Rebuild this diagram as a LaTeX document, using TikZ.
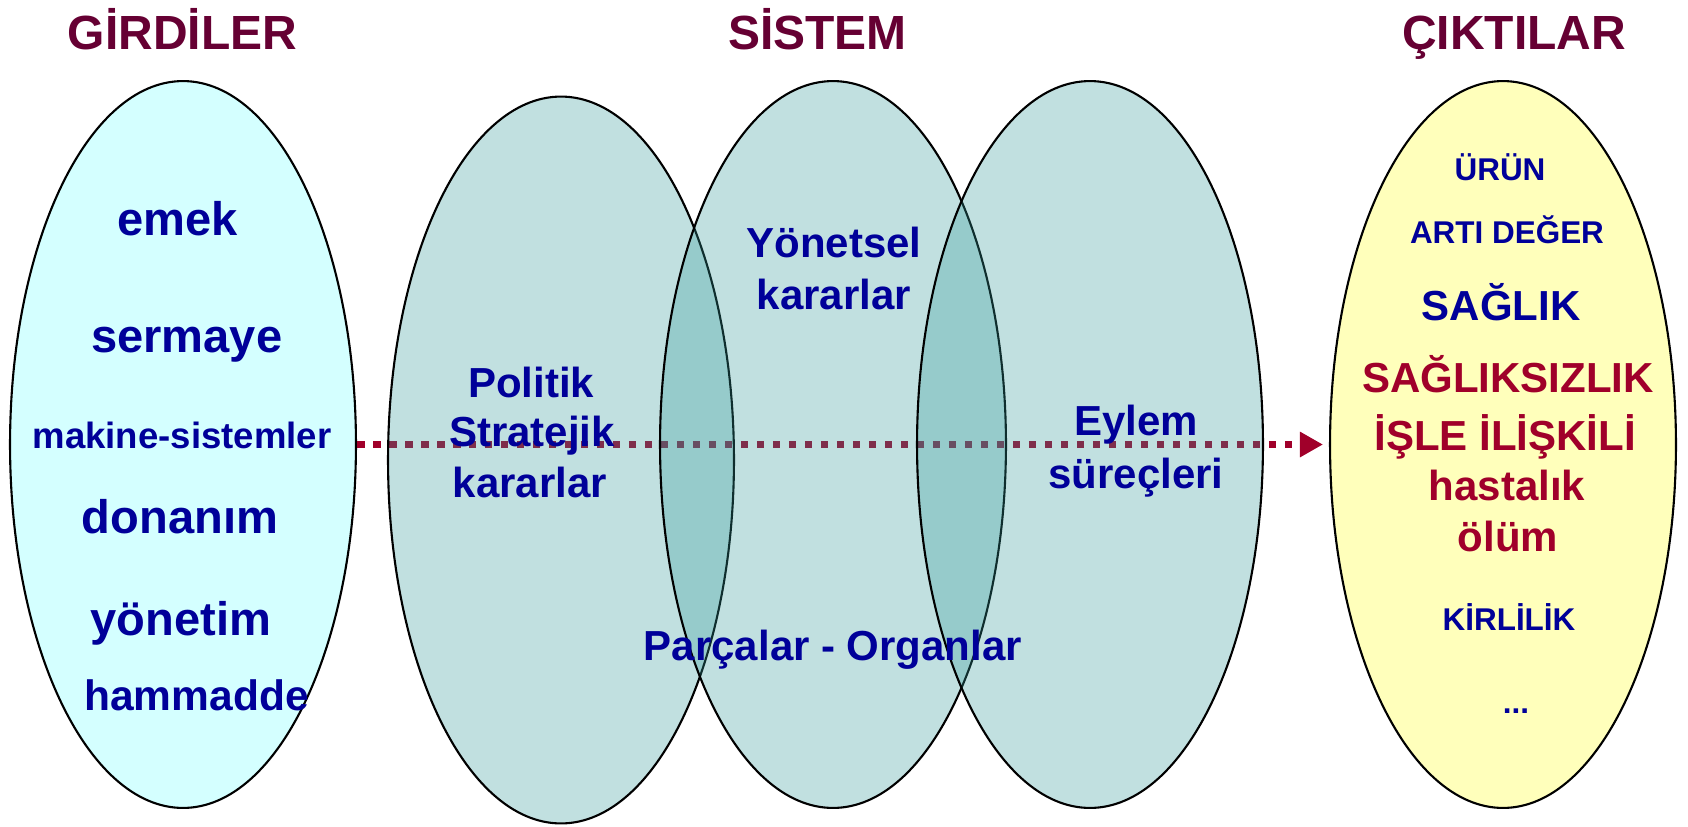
\documentclass[tikz,border=0pt]{standalone}
\usepackage{fontspec}
\setmainfont{Liberation Sans}
\usetikzlibrary{shapes.geometric,arrows.meta}
\definecolor{hdred}{HTML}{660033}
\definecolor{txblue}{HTML}{000099}
\definecolor{txred}{HTML}{A0002A}
\definecolor{incyan}{HTML}{D4FFFF}
\definecolor{outyel}{HTML}{FFFFBB}
\definecolor{systeal}{HTML}{339999}

\tikzset{
  ell/.style={ellipse,draw=black,line width=1.2pt,inner sep=0pt,minimum width=6.92cm,minimum height=14.54cm},
  sys/.style={ell,fill=systeal,fill opacity=0.3,draw opacity=1},
  hd/.style={anchor=base,text=hdred,font=\fontsize{27.3}{32}\selectfont\bfseries},
  bigtx/.style={anchor=base,text=txblue,font=\fontsize{26.8}{32}\selectfont\bfseries},
  midtx/.style={anchor=base,text=txblue,font=\fontsize{23.9}{28}\selectfont\bfseries},
  smalltx/.style={anchor=base,text=txblue,font=\fontsize{17.9}{22}\selectfont\bfseries},
  flow/.style={txred,line width=0.14cm,dash pattern=on 0.15cm off 0.17cm,shorten >=0.12cm,-{Triangle[length=0.46cm,width=0.48cm]}}
}

\begin{document}
\begin{tikzpicture}[x=0.02cm,y=-0.02cm]
    \useasboundingbox (0,0) rectangle (1688,826);
    % basliklar
    \node[hd] (hGirdi) at (182.5,49.5) {GİRDİLER};
    \node[hd] (hSistem) at (817.6,49.5) {SİSTEM};
    \node[hd] (hCikti) at (1514,49.5) {ÇIKTILAR};
    % girdi ve cikti
    \node[ell,fill=incyan] (girdi) at (183,444.5) {};
    \node[ell,fill=outyel] (cikti) at (1503,444.5) {};
    \draw[flow] (girdi.east) -- (cikti.west);
    % sistem
    \node[sys] (politik) at (561,460) {};
    \node[sys] (yonetsel) at (833,444.5) {};
    \node[sys] (eylem) at (1090,444.5) {};
    % girdiler
    \node[bigtx] (tEmek) at (177.6,235) {emek};
    \node[bigtx] (tSermaye) at (186.8,352) {sermaye};
    \node[anchor=base,text=txblue,font=\fontsize{20.8}{24}\selectfont\bfseries] (tMakine) at (182,448) {makine-sistemler};
    \node[bigtx] (tDonanim) at (180,533) {donanım};
    \node[bigtx] (tYonetim) at (181,635) {yönetim};
    \node[anchor=base,text=txblue,font=\fontsize{24.2}{28}\selectfont\bfseries] (tHammadde) at (196.5,710.5) {hammadde};
    % sistem metinleri
    \node[midtx] (tPol1) at (531,397) {Politik};
    \node[midtx] (tPol2) at (532,446) {Stratejik};
    \node[midtx] (tPol3) at (530,497) {kararlar};
    \node[midtx] (tYon1) at (834,257) {Yönetsel};
    \node[midtx] (tYon2) at (834,309) {kararlar};
    \node[midtx] (tEyl1) at (1136,435) {Eylem};
    \node[midtx] (tEyl2) at (1136,488) {süreçleri};
    \node[midtx] (tParca) at (833,660) {Parçalar - Organlar};
    % ciktilar
    \node[smalltx] (tUrun) at (1500,180) {ÜRÜN};
    \node[smalltx] (tArti) at (1507,243) {ARTI DEĞER};
    \node[midtx] (tSaglik) at (1501,320) {SAĞLIK};
    \node[midtx,text=txred] (tSagsiz) at (1508,392) {SAĞLIKSIZLIK};
    \node[midtx,text=txred] (tIsle) at (1505,450) {İŞLE İLİŞKİLİ};
    \node[midtx,text=txred] (tHast) at (1507,500.5) {hastalık};
    \node[midtx,text=txred] (tOlum) at (1508,551) {ölüm};
    \node[smalltx] (tKir) at (1509,630) {KİRLİLİK};
    \node[smalltx] (tDots) at (1516,713) {...};
  \end{tikzpicture}
\end{document}
